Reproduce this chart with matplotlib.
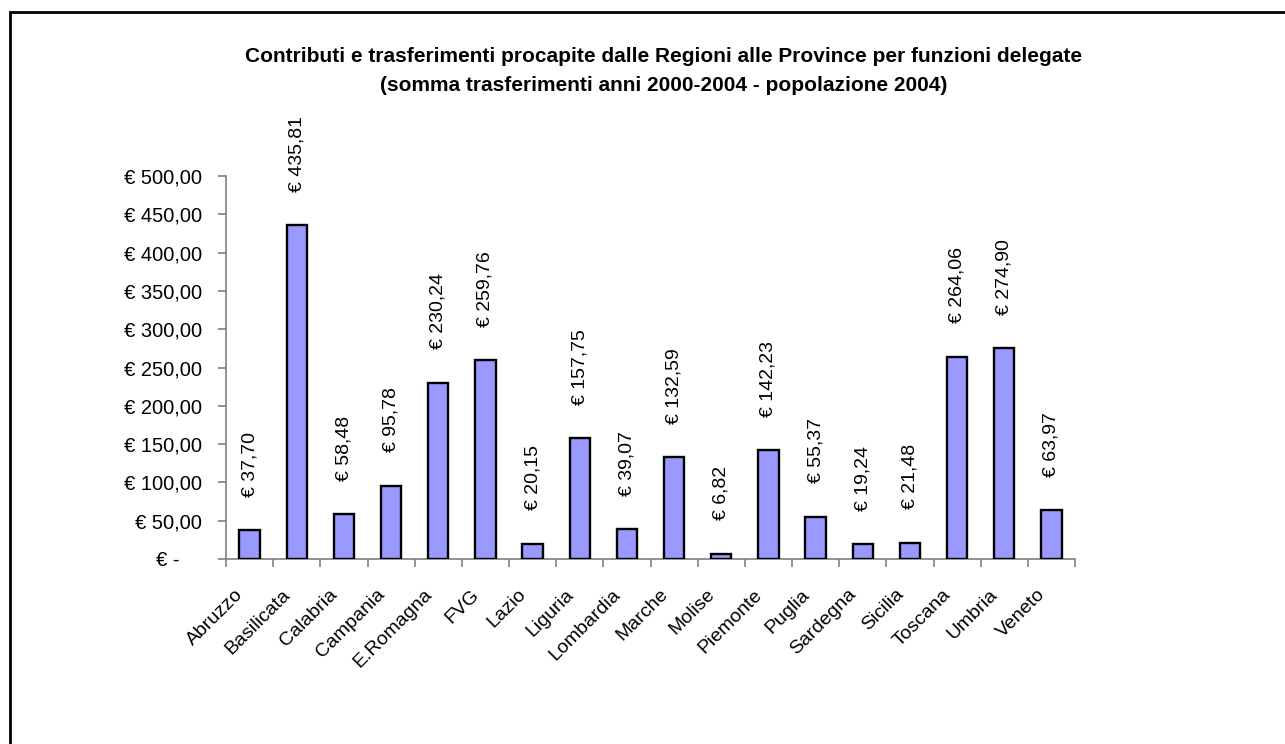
import matplotlib
matplotlib.use("Agg")
import matplotlib.pyplot as plt
from matplotlib.patches import Rectangle
from matplotlib.ticker import FixedLocator, FuncFormatter
from matplotlib.transforms import ScaledTranslation

plt.rcParams['font.family'] = ['Liberation Sans', 'DejaVu Sans']

regioni = ["Abruzzo", "Basilicata", "Calabria", "Campania", "E.Romagna", "FVG",
           "Lazio", "Liguria", "Lombardia", "Marche", "Molise", "Piemonte",
           "Puglia", "Sardegna", "Sicilia", "Toscana", "Umbria", "Veneto"]
valori = [37.70, 435.81, 58.48, 95.78, 230.24, 259.76, 20.15, 157.75, 39.07,
          132.59, 6.82, 142.23, 55.37, 19.24, 21.48, 264.06, 274.90, 63.97]
y_ticks = [0, 50, 100, 150, 200, 250, 300, 350, 400, 450, 500]

titolo_1 = "Contributi e trasferimenti procapite dalle Regioni alle Province per funzioni delegate"
titolo_2 = "(somma trasferimenti anni 2000-2004 - popolazione 2004)"


def euro(v):
    if v == 0:
        return "€ -    "
    s = f"{v:,.2f}".replace(",", "X").replace(".", ",").replace("X", ".")
    return "€ " + s


W, H = 1285, 744
fig = plt.figure(figsize=(W / 100, H / 100), dpi=100)

# chart frame (open on the right and bottom edges)
fig.patches.append(Rectangle((10 / W, -0.1), 1.2, 1 - 12 / H + 0.1,
                             transform=fig.transFigure, fill=False,
                             edgecolor="black", linewidth=2.0))

ax = fig.add_axes([226 / W, 1 - 559 / H, (1075 - 226) / W, (559 - 176) / H])

x = list(range(len(regioni)))
ax.bar(x, valori, width=0.43, color="#9999FF", edgecolor="black", linewidth=1.7, zorder=3)

ax.set_xlim(-0.5, len(regioni) - 0.5)
ax.set_ylim(0, 500)

for xi, v in zip(x, valori):
    ax.annotate(euro(v), (xi, v), xytext=(0, 24), textcoords="offset points",
                rotation=90, ha="center", va="bottom", fontsize=14)

for side in ("top", "right"):
    ax.spines[side].set_visible(False)
for side in ("left", "bottom"):
    ax.spines[side].set_color("#808080")
    ax.spines[side].set_linewidth(1.2)

ax.yaxis.set_major_locator(FixedLocator(y_ticks))
ax.yaxis.set_major_formatter(FuncFormatter(lambda v, p: euro(v)))
ax.tick_params(axis="y", direction="out", length=5.5, width=1.2, color="#808080",
               labelsize=14.5, pad=11.8)

ax.set_xticks([i - 0.5 for i in range(len(regioni) + 1)], minor=False)
ax.set_xticklabels([])
ax.set_xticks(x, minor=True)
ax.set_xticklabels(regioni, minor=True, rotation=45, ha="right", va="center",
                   rotation_mode="anchor", fontsize=14)
ax.tick_params(axis="x", which="major", direction="out", length=5.5, width=1.2,
               color="#808080")
ax.tick_params(axis="x", which="minor", length=0, pad=0)

shift = ScaledTranslation(-9 / 100, -33 / 100, fig.dpi_scale_trans)
for lab in ax.get_xticklabels(minor=True):
    lab.set_transform(lab.get_transform() + shift)

cx = 0.5 * (230 + 1097) / W
fig.text(cx, 1 - 62 / H, titolo_1, ha="center", va="baseline",
         fontsize=15, fontweight="bold")
fig.text(cx, 1 - 91 / H, titolo_2, ha="center", va="baseline",
         fontsize=15, fontweight="bold")

fig.savefig("out.png", dpi=100, facecolor="white")
